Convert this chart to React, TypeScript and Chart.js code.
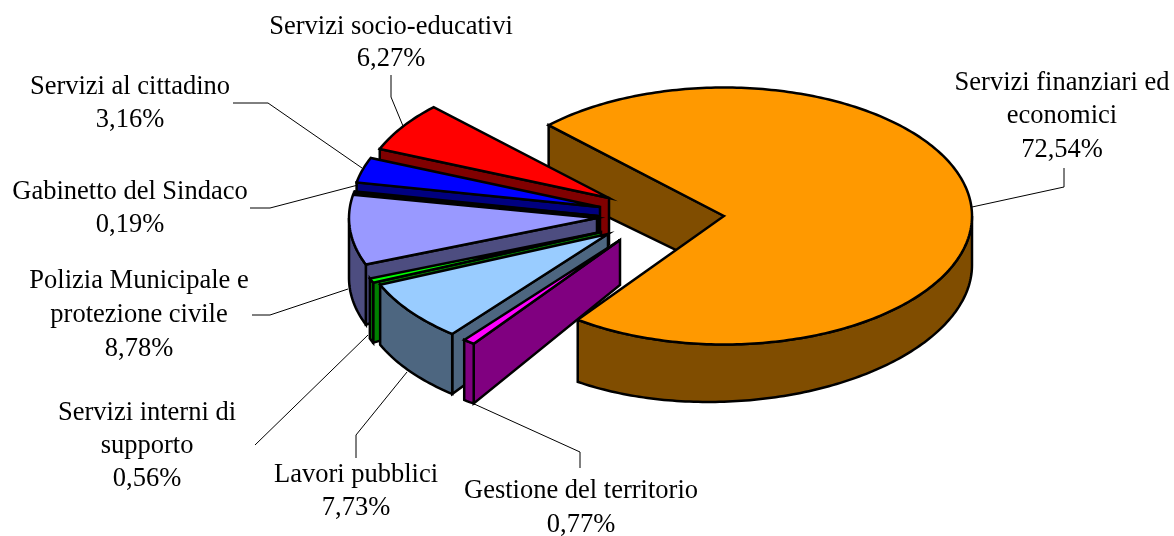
import React, { useEffect, useRef } from "react";
import { Chart, registerables } from "chart.js";

Chart.register(...registerables);

const categories = [
  "Servizi finanziari ed economici",
  "Gestione del territorio",
  "Lavori pubblici",
  "Servizi interni di supporto",
  "Polizia Municipale e protezione civile",
  "Gabinetto del Sindaco",
  "Servizi al cittadino",
  "Servizi socio-educativi",
];
const shares = [72.54, 0.77, 7.73, 0.56, 8.78, 0.19, 3.16, 6.27];

const topColors = ["#FF9900", "#FF00FF", "#99CCFF", "#00FF00", "#9999FF", "#FFFF00", "#0000FF", "#FF0000"];
const wallColors = ["#804D00", "#800080", "#4D6680", "#008000", "#4D4D80", "#808000", "#000080", "#800000"];

// explosion of each slice away from the pie centre, in pixels
const explodeX = [84, -20, -32, -39, -43, -42, -40, -31];
const explodeY = [-4, 20, 14, 12, -2, -4, -13, -22];

const TILT = 0.518;
const RADIUS = 248;

// text layout: wrapped lines, centre x, line centre y
const labelLines = [
  ["Servizi finanziari ed", "economici", "72,54%"],
  ["Gestione del territorio", "0,77%"],
  ["Lavori pubblici", "7,73%"],
  ["Servizi interni di", "supporto", "0,56%"],
  ["Polizia Municipale e", "protezione civile", "8,78%"],
  ["Gabinetto del Sindaco", "0,19%"],
  ["Servizi al cittadino", "3,16%"],
  ["Servizi socio-educativi", "6,27%"],
];
const labelX = [1062, 581, 356, 147, 139, 130, 130, 391];
const labelY = [
  [83, 116, 150],
  [491, 525],
  [475, 508],
  [413, 446, 479],
  [281, 315, 349],
  [192, 225],
  [87, 120],
  [27, 59],
];
const leaders = [
  [[1064, 168], [1064, 187], [972, 207]],
  [[580, 468], [580, 452], [472, 403]],
  [[356, 458], [356, 435], [407, 372]],
  [[255, 445], [368, 335]],
  [[252, 315], [270, 315], [348, 289]],
  [[250, 208], [270, 208], [358, 185]],
  [[233, 103], [268, 103], [362, 168]],
  [[391, 75], [391, 97], [403, 126]],
];

// wall height shrinks towards the right, as the 3D view's perspective does
const depthAt = (i: number, x: number) =>
  i === 0 ? 63 - (x - 550) * 0.033 : x > 470 ? 60 - (x - 470) * 0.1 : 60;

const pie3d = {
  id: "pie3d",
  beforeDatasetsDraw(chart: any) {
    const ctx = chart.ctx;
    const arcs = chart.getDatasetMeta(0).data;
    const order = [0, 7, 6, 5, 4, 3, 2, 1];
    const STEP = Math.PI / 180;
    order.forEach((i) => {
      const arc = arcs[i];
      const { x, y, startAngle, endAngle, outerRadius } = arc;
      const ax = x + explodeX[i];
      const ay = y + explodeY[i];
      const pt = (a: number) => [ax + outerRadius * Math.cos(a), ay + outerRadius * TILT * Math.sin(a)];
      const down = (p: number[]) => [p[0], p[1] + depthAt(i, p[0])];
      const poly = (pts: number[][], fill: string) => {
        ctx.beginPath();
        pts.forEach((p, k) => (k ? ctx.lineTo(p[0], p[1]) : ctx.moveTo(p[0], p[1])));
        ctx.closePath();
        ctx.fillStyle = fill;
        ctx.fill();
        ctx.stroke();
      };
      ctx.save();
      ctx.strokeStyle = "#000";
      ctx.lineWidth = 2.5;
      ctx.lineJoin = "miter";
      const apex = [ax, ay];
      // cut faces that look towards the viewer
      if (Math.cos(startAngle) < 0) {
        const p = pt(startAngle);
        poly([apex, p, down(p), down(apex)], wallColors[i]);
      }
      if (Math.cos(endAngle) > 0) {
        const p = pt(endAngle);
        poly([apex, p, down(p), down(apex)], wallColors[i]);
      }
      // outer wall, lower half of the ellipse only
      const from = Math.max(startAngle, 0);
      const to = Math.min(endAngle, Math.PI);
      if (to > from) {
        const rim: number[][] = [];
        for (let a = from; a < to; a += STEP) rim.push(pt(a));
        rim.push(pt(to));
        poly([...rim, ...rim.slice().reverse().map(down)], wallColors[i]);
      }
      // top face: the library's own arc, squashed
      ctx.save();
      ctx.translate(ax, ay);
      ctx.scale(1, TILT);
      ctx.translate(-x, -y);
      arc.draw(ctx);
      ctx.restore();
      const edge: number[][] = [apex];
      for (let a = startAngle; a < endAngle; a += STEP) edge.push(pt(a));
      edge.push(pt(endAngle));
      ctx.beginPath();
      edge.forEach((p, k) => (k ? ctx.lineTo(p[0], p[1]) : ctx.moveTo(p[0], p[1])));
      ctx.closePath();
      ctx.stroke();
      ctx.restore();
    });
    return false;
  },
  afterDraw(chart: any) {
    const ctx = chart.ctx;
    ctx.save();
    ctx.strokeStyle = "#000";
    ctx.lineWidth = 1;
    leaders.forEach((line) => {
      ctx.beginPath();
      line.forEach((p, k) => (k ? ctx.lineTo(p[0], p[1]) : ctx.moveTo(p[0], p[1])));
      ctx.stroke();
    });
    ctx.fillStyle = "#000";
    ctx.font = '26.5px "Liberation Serif"';
    ctx.textAlign = "center";
    ctx.textBaseline = "middle";
    labelLines.forEach((lines, i) => {
      lines.forEach((t, k) => ctx.fillText(t, labelX[i], labelY[i][k]));
    });
    ctx.restore();
  },
};

export default function App() {
  const ref = useRef<HTMLCanvasElement>(null);
  useEffect(() => {
    const chart = new Chart(ref.current!, {
      type: "pie",
      data: {
        labels: categories,
        datasets: [
          {
            data: shares,
            backgroundColor: topColors,
            borderWidth: 0,
          },
        ],
      },
      options: {
        animation: false,
        responsive: false,
        rotation: -45,
        radius: RADIUS,
        layout: { padding: { left: 106, bottom: 96 } },
        plugins: { legend: { display: false }, tooltip: { enabled: false } },
      },
      plugins: [pie3d],
    } as any);
    return () => chart.destroy();
  }, []);
  return (
    <div style={{ position: "fixed", left: 0, top: 0, width: 1174, height: 536, background: "#fff" }}>
      <canvas ref={ref} width={1174} height={536} style={{ display: "block" }} />
    </div>
  );
}
